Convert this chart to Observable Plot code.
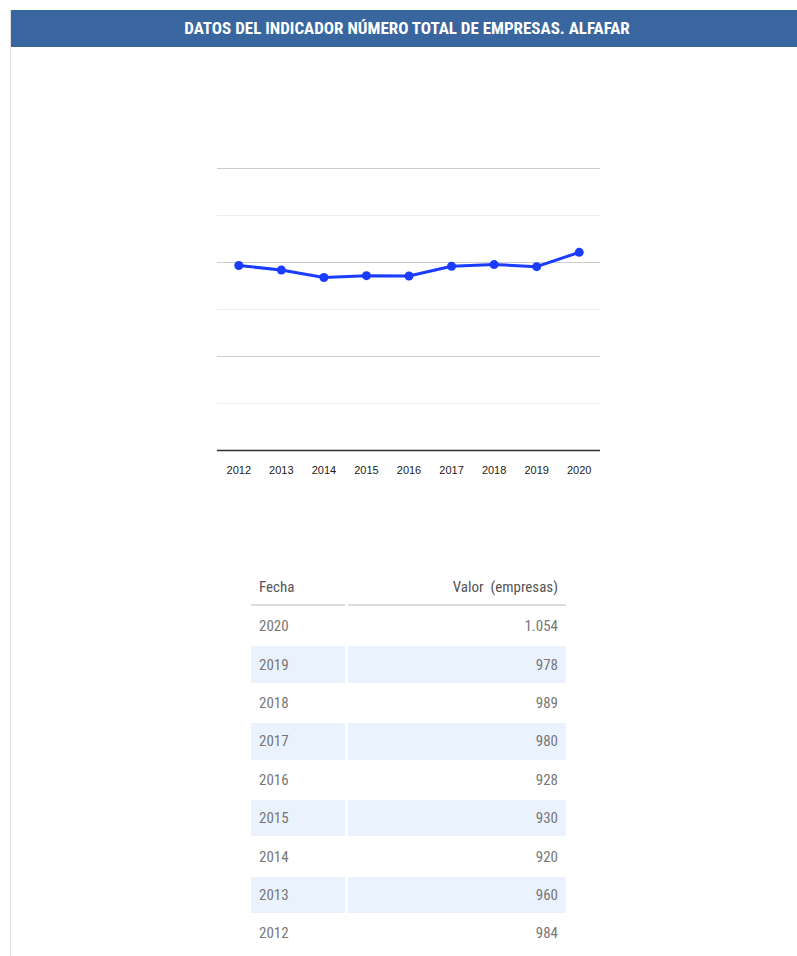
<!DOCTYPE html>
<html>
<head>
<meta charset="utf-8">
<script src="https://cdn.jsdelivr.net/npm/d3@7"></script>
<script src="https://cdn.jsdelivr.net/npm/@observablehq/plot@0.6"></script>
<style>
  html, body { margin: 0; padding: 0; background: #fff; width: 797px; height: 956px; overflow: hidden; }
  .frame { position: absolute; left: 10px; top: 10px; width: 1px; height: 946px; background: #e2e2e2; }
  .header { position: absolute; left: 11px; top: 10px; width: 786px; height: 37px; background: #3a66a0;
    color: #fff; font-family: "Roboto Condensed", "Liberation Sans Narrow", "Arial Narrow", "Liberation Sans", sans-serif;
    font-weight: bold; font-size: 17px; line-height: 37px; text-align: center; padding-left: 6px; box-sizing: border-box; }
  #chart { position: absolute; left: 200px; top: 150px; }
  table { position: absolute; left: 248px; top: 568px; border-collapse: separate; border-spacing: 3px 2px;
    font-family: "Roboto Condensed", "Liberation Sans Narrow", "Arial Narrow", "Liberation Sans", sans-serif; font-size: 15px; color: #777; }
  th { font-weight: normal; color: #555; height: 34px; border-bottom: 2px solid #ddd; padding: 0 8px; }
  td { height: 36.4px; padding: 0 8px; }
  th.c1, td.c1 { width: 78px; text-align: left; }
  th.c2, td.c2 { width: 202px; text-align: right; }
  tr.alt td { background: #eaf2fd; }
</style>
</head>
<body>
<div class="frame"></div>
<div class="header">DATOS DEL INDICADOR NÚMERO TOTAL DE EMPRESAS. ALFAFAR</div>
<div id="chart"></div>
<table id="tbl"></table>
<script>
const years = ["2012", "2013", "2014", "2015", "2016", "2017", "2018", "2019", "2020"];
const values = [984, 960, 920, 930, 928, 980, 989, 978, 1054];
const majorTicks = [0, 500, 1000, 1500];
const minorTicks = [250, 750, 1250];

const data = years.map((y, i) => ({year: y, value: values[i]}));

const chart = Plot.plot({
  width: 420,
  height: 340,
  marginLeft: 17,
  marginRight: 20,
  marginTop: 18,
  marginBottom: 40,
  style: {fontFamily: "'Liberation Sans', Arial, sans-serif", fontSize: "11px", color: "#222", background: "#fff"},
  x: {type: "point", domain: years, padding: 0.5, round: false, label: null},
  y: {domain: [0, 1500], axis: null},
  marks: [
    Plot.ruleY(minorTicks, {stroke: "#ebebeb", strokeWidth: 1}),
    Plot.ruleY(majorTicks.filter(d => d > 0), {stroke: "#cccccc", strokeWidth: 1}),
    Plot.ruleY([0], {stroke: "#333", strokeWidth: 1.5}),
    Plot.axisX({tickSize: 0, tickPadding: 16, fontSize: 11, fill: "#222", label: null}),
    Plot.line(data, {x: "year", y: "value", stroke: "#1a3cff", strokeWidth: 3}),
    Plot.dot(data, {x: "year", y: "value", r: 4.5, fill: "#1a3cff", stroke: "none"})
  ]
});
document.getElementById("chart").appendChild(chart);

const tbl = document.getElementById("tbl");
const fmt = v => v >= 1000 ? Math.floor(v / 1000) + "." + String(v % 1000).padStart(3, "0") : String(v);
let html = '<tr><th class="c1">Fecha</th><th class="c2">Valor&nbsp; (empresas)</th></tr>';
const rows = data.slice().reverse();
rows.forEach((d, i) => {
  html += `<tr class="${i % 2 === 1 ? "alt" : ""}"><td class="c1">${d.year}</td><td class="c2">${fmt(d.value)}</td></tr>`;
});
tbl.innerHTML = html;
</script>
</body>
</html>
